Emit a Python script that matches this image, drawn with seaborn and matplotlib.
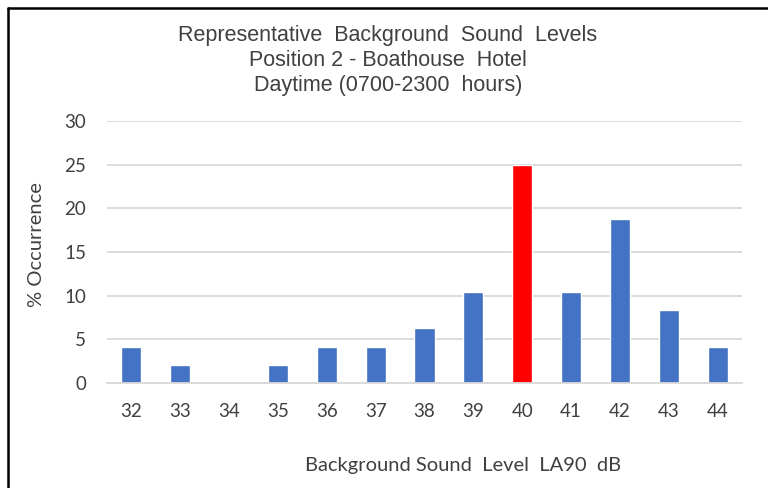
import matplotlib
matplotlib.use("Agg")
import matplotlib.pyplot as plt
import seaborn as sns
import pandas as pd
from matplotlib.lines import Line2D

levels = ["32", "33", "34", "35", "36", "37", "38", "39", "40", "41", "42", "43", "44"]
occurrence = [4.17, 2.08, 0.0, 2.08, 4.17, 4.17, 6.25, 10.42, 25.0, 10.42, 18.75, 8.33, 4.17]
highlight = "40"
title_lines = ["Representative  Background  Sound  Levels",
               "Position 2 - Boathouse  Hotel",
               "Daytime (0700-2300  hours)"]
x_label = "Background Sound  Level  LA90  dB"
y_label = "% Occurrence"
y_ticks = [0, 5, 10, 15, 20, 25, 30]

sns.set_theme(style="white")
plt.rcParams['font.family'] = ['Lato', 'DejaVu Sans']

df = pd.DataFrame({"level": levels, "occ": occurrence})
palette = {l: ("#FF0000" if l == highlight else "#4472C4") for l in levels}

fig = plt.figure(figsize=(7.68, 4.88), dpi=100)
ax = fig.add_axes([107/768, 1 - 383/488, 635/768, 262/488])
sns.barplot(data=df, x="level", y="occ", hue="level", palette=palette,
            legend=False, width=0.41, ax=ax, saturation=1)

ax.set_ylim(0, 30)
ax.set_yticks(y_ticks)
ax.set_xlim(-0.5, len(levels) - 0.5)
ax.yaxis.grid(True, color="#D9D9D9", linewidth=1.3)
ax.set_axisbelow(True)
for s in ["top", "right", "left"]:
    ax.spines[s].set_visible(False)
ax.spines["bottom"].set_color("#D9D9D9")
ax.spines["bottom"].set_linewidth(1.3)
ax.tick_params(axis="both", length=0, labelsize=13.5, colors="#404040")
ax.tick_params(axis="y", pad=15)
ax.tick_params(axis="x", pad=14.5)
ax.set_xlabel("")
ax.set_ylabel("")

fig.text(463/768, 1 - 466/488, x_label, ha="center", va="center",
         fontsize=14.5, color="#404040")
fig.text(37/768, 1 - 245/488, y_label, ha="center", va="center",
         rotation=90, fontsize=14.5, color="#404040")
for i, line in enumerate(title_lines):
    fig.text(388/768, 1 - (35 + 25.5 * i)/488, line, ha="center", va="center",
             fontsize=15.5, color="#404040", family=['Liberation Sans', 'DejaVu Sans'])

fig.add_artist(Line2D([7.5/768, 7.5/768], [0, 1 - 7.5/488], transform=fig.transFigure,
                      color="black", linewidth=1.8))
fig.add_artist(Line2D([7.5/768, 1], [1 - 7.5/488, 1 - 7.5/488], transform=fig.transFigure,
                      color="black", linewidth=1.8))

fig.savefig("out.png", dpi=100)
